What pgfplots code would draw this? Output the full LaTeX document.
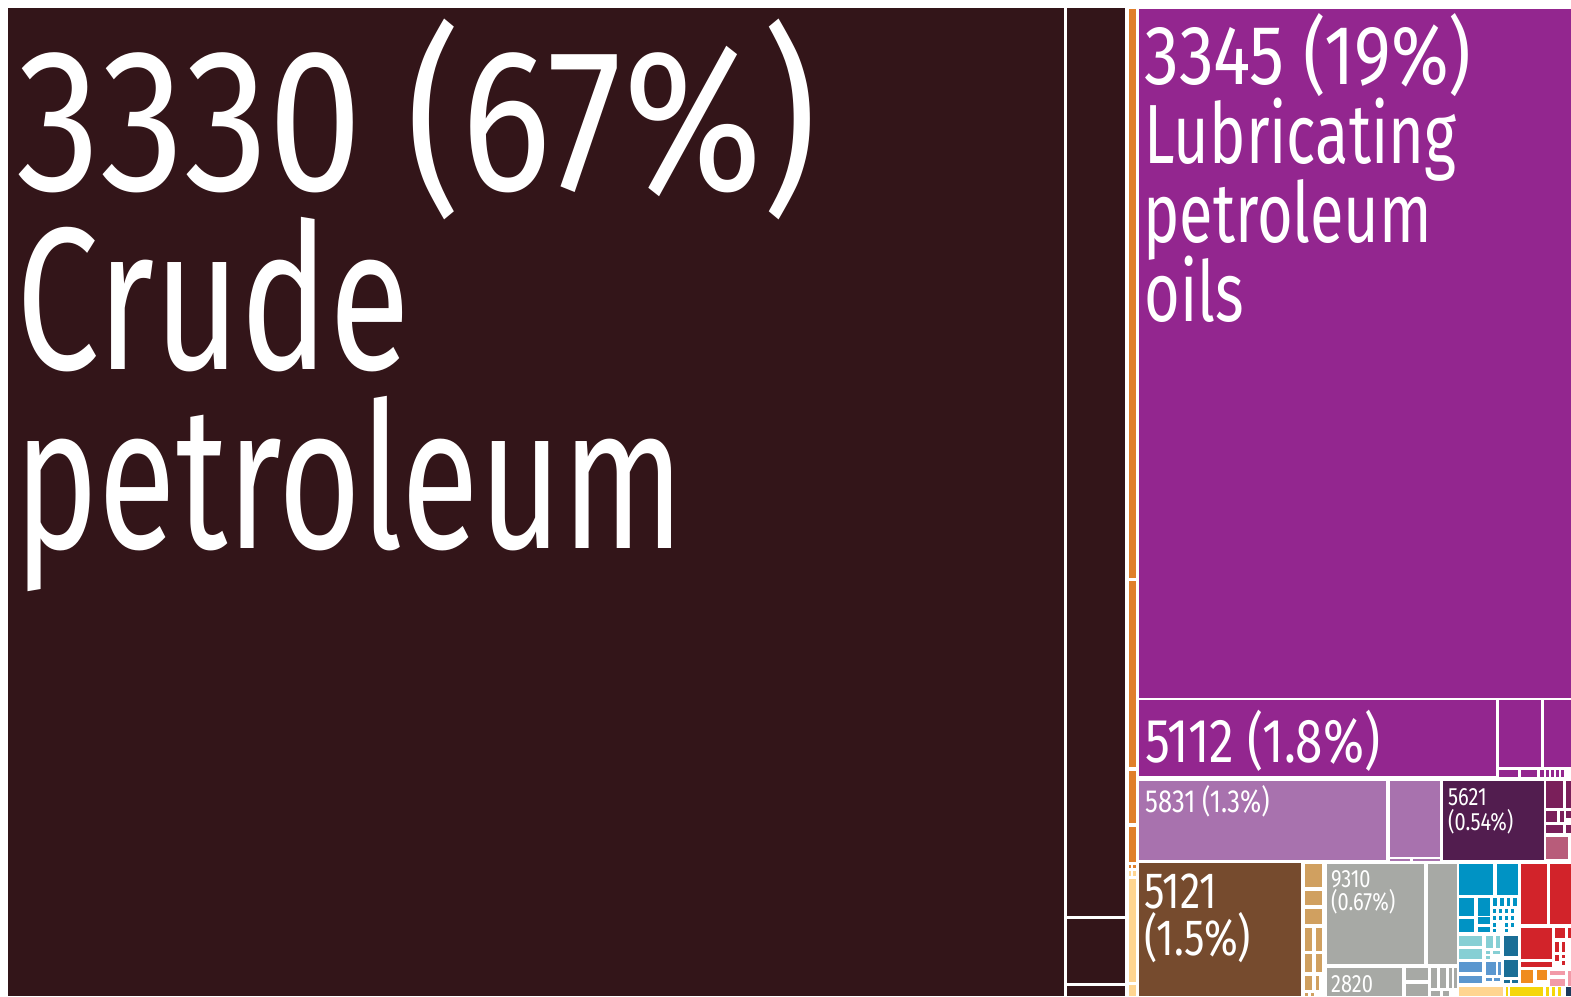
\documentclass[border=0pt]{standalone}
\usepackage{pgfplots}
\pgfplotsset{compat=1.18}
\usepackage{fontspec}
\newfontfamily\tw{Fira Sans}[FakeStretch=0.70]
\newfontfamily\tws{Fira Sans}[FakeStretch=0.73]
\newfontfamily\tn{Fira Sans}[FakeStretch=0.80]
\newfontfamily\tnb{Fira Sans}[FakeStretch=0.83]
\definecolor{crude}{HTML}{331519}
\definecolor{lub}{HTML}{93268F}
\definecolor{lpur}{HTML}{A872AE}
\definecolor{dpur}{HTML}{521D4F}
\definecolor{mag}{HTML}{7A1F5A}
\definecolor{pinkm}{HTML}{B85C7A}
\definecolor{brn}{HTML}{764B2E}
\definecolor{tan}{HTML}{D0A060}
\definecolor{gry}{HTML}{A7A9A5}
\definecolor{blu}{HTML}{0093C4}
\definecolor{dblu}{HTML}{1A6E96}
\definecolor{mblu}{HTML}{5B97CF}
\definecolor{teal}{HTML}{86CFD4}
\definecolor{red}{HTML}{D2232A}
\definecolor{org}{HTML}{E07F2A}
\definecolor{org2}{HTML}{F08C1E}
\definecolor{pch}{HTML}{FFD590}
\definecolor{yel}{HTML}{F5D60A}
\definecolor{pnk}{HTML}{F29AA8}
\definecolor{navy}{HTML}{1B3A5C}
\newcommand{\tile}[5]{\addplot[fill=#5,draw=none] coordinates {(#1,#2) (#3,#2) (#3,#4) (#1,#4)} -- cycle;}
\newcommand{\lbl}[5]{\node[anchor=base west, text=white, inner sep=0pt,
  font=#3\fontsize{#4}{#4}\selectfont] at (axis cs:#1,#2) {#5};}
\begin{document}
\begin{tikzpicture}
\begin{axis}[scale only axis, width=1571pt, height=996pt,
  xmin=0, xmax=1571, ymin=0, ymax=996, y dir=reverse, hide axis]
\tile{0}{0}{1571}{996}{white}
% crude petroleum and dark strip
\tile{8}{8}{1064}{996}{crude}
\tile{1067}{8}{1125}{916}{crude}
\tile{1067}{919}{1125}{983}{crude}
\tile{1067}{986}{1125}{996}{crude}
% orange strip
\tile{1129}{9}{1136}{578}{org}
\tile{1129}{581}{1136}{767}{org}
\tile{1129}{771}{1136}{823}{org}
\tile{1129}{827}{1136}{862}{org}
\tile{1129}{865}{1131}{868}{org}
\tile{1133}{865}{1136}{868}{org}
\tile{1129}{871}{1131}{876}{pch}
\tile{1133}{871}{1136}{876}{pch}
\tile{1129}{879}{1136}{982}{pch}
\tile{1129}{985}{1136}{996}{pch}
% purple group
\tile{1139}{9}{1571}{698}{lub}
\tile{1139}{700}{1496}{776}{lub}
\tile{1499}{700}{1541}{767}{lub}
\tile{1544}{700}{1571}{767}{lub}
\tile{1499}{770}{1518}{777}{lub}
\tile{1521}{770}{1537}{777}{lub}
\tile{1540}{770}{1544}{777}{lub}
\tile{1546}{770}{1549}{777}{lub}
\tile{1551}{770}{1554}{777}{lub}
\tile{1556}{770}{1559}{777}{lub}
\tile{1561}{770}{1564}{777}{lub}
\tile{1139}{781}{1386}{860}{lpur}
\tile{1390}{781}{1440}{857}{lpur}
\tile{1390}{859}{1410}{861}{lpur}
\tile{1413}{859}{1440}{861}{lpur}
\tile{1443}{781}{1544}{860}{dpur}
\tile{1546}{781}{1563}{808}{mag}
\tile{1566}{781}{1571}{808}{mag}
\tile{1546}{811}{1557}{822}{mag}
\tile{1560}{811}{1564}{822}{mag}
\tile{1566}{811}{1571}{818}{mag}
\tile{1546}{825}{1563}{833}{mag}
\tile{1566}{825}{1571}{833}{mag}
\tile{1546}{837}{1568}{859}{pinkm}
% bottom row
\tile{1139}{863}{1301}{996}{brn}
\tile{1305}{864}{1322}{887}{tan}
\tile{1305}{891}{1322}{905}{tan}
\tile{1305}{909}{1322}{924}{tan}
\tile{1305}{928}{1312}{951}{tan}
\tile{1316}{928}{1322}{951}{tan}
\tile{1305}{954}{1312}{972}{tan}
\tile{1316}{954}{1322}{972}{tan}
\tile{1305}{976}{1312}{990}{tan}
\tile{1316}{976}{1319}{990}{tan}
\tile{1305}{993}{1308}{996}{tan}
\tile{1311}{993}{1314}{996}{tan}
\tile{1327}{864}{1424}{964}{gry}
\tile{1428}{864}{1457}{964}{gry}
\tile{1327}{968}{1402}{996}{gry}
\tile{1406}{968}{1428}{980}{gry}
\tile{1406}{984}{1428}{996}{gry}
\tile{1431}{968}{1437}{988}{gry}
\tile{1440}{968}{1446}{988}{gry}
\tile{1449}{968}{1452}{988}{gry}
\tile{1454}{968}{1457}{988}{gry}
\tile{1431}{991}{1440}{996}{gry}
\tile{1443}{991}{1449}{996}{gry}
% blue cluster
\tile{1459}{864}{1493}{895}{blu}
\tile{1497}{864}{1518}{895}{blu}
\tile{1459}{898}{1474}{916}{blu}
\tile{1478}{898}{1490}{916}{blu}
\tile{1459}{919}{1474}{932}{blu}
\tile{1478}{917}{1490}{924}{blu}
\tile{1478}{927}{1490}{932}{blu}
\tile{1493}{898}{1497}{906}{blu}
\tile{1500}{898}{1504}{906}{blu}
\tile{1507}{898}{1510}{906}{blu}
\tile{1513}{898}{1517}{906}{blu}
\tile{1493}{909}{1496}{913}{blu}
\tile{1499}{909}{1502}{913}{blu}
\tile{1505}{909}{1508}{913}{blu}
\tile{1511}{909}{1514}{913}{blu}
\tile{1493}{916}{1496}{920}{blu}
\tile{1499}{916}{1502}{920}{blu}
\tile{1505}{916}{1508}{920}{blu}
\tile{1511}{916}{1514}{920}{blu}
\tile{1493}{923}{1496}{927}{blu}
\tile{1505}{923}{1508}{927}{blu}
\tile{1511}{923}{1514}{927}{blu}
\tile{1493}{929}{1496}{932}{blu}
\tile{1505}{929}{1508}{932}{blu}
\tile{1459}{936}{1482}{946}{teal}
\tile{1459}{949}{1482}{959}{teal}
\tile{1486}{936}{1493}{948}{teal}
\tile{1496}{936}{1500}{948}{teal}
\tile{1486}{951}{1490}{954}{teal}
\tile{1493}{951}{1500}{954}{teal}
\tile{1486}{956}{1490}{959}{teal}
\tile{1504}{936}{1518}{956}{dblu}
\tile{1504}{960}{1518}{977}{dblu}
\tile{1459}{962}{1482}{972}{mblu}
\tile{1459}{976}{1482}{983}{mblu}
\tile{1486}{962}{1496}{975}{mblu}
\tile{1498}{962}{1501}{975}{mblu}
\tile{1486}{978}{1492}{981}{mblu}
\tile{1494}{978}{1500}{981}{mblu}
\tile{1504}{980}{1510}{983}{dblu}
\tile{1512}{980}{1518}{983}{dblu}
% red cluster
\tile{1521}{864}{1547}{924}{red}
\tile{1550}{864}{1571}{924}{red}
\tile{1521}{928}{1552}{959}{red}
\tile{1521}{962}{1552}{967}{red}
\tile{1555}{928}{1565}{938}{red}
\tile{1568}{928}{1571}{938}{red}
\tile{1555}{942}{1559}{952}{red}
\tile{1562}{942}{1565}{952}{red}
\tile{1555}{955}{1559}{961}{red}
\tile{1562}{955}{1565}{958}{red}
\tile{1562}{961}{1565}{965}{red}
\tile{1521}{970}{1533}{983}{org2}
\tile{1537}{970}{1547}{980}{org2}
\tile{1550}{971}{1565}{975}{pnk}
\tile{1550}{979}{1565}{986}{pnk}
\tile{1568}{971}{1571}{986}{pnk}
\tile{1459}{987}{1503}{996}{pch}
\tile{1506}{987}{1508}{996}{yel}
\tile{1510}{987}{1543}{996}{yel}
\tile{1546}{987}{1549}{996}{yel}
\tile{1552}{987}{1555}{996}{yel}
\tile{1558}{987}{1561}{996}{yel}
\tile{1566}{987}{1571}{996}{navy}
% labels
\lbl{16}{190}{\tnb}{203}{3330 (67\%)}
\lbl{16}{369}{\tws}{203}{Crude}
\lbl{14}{548}{\tw}{203}{petroleum}
\lbl{1144}{84}{\tnb}{84}{3345 (19\%)}
\lbl{1144}{163}{\tws}{84}{Lubricating}
\lbl{1143}{242}{\tws}{84}{petroleum}
\lbl{1144}{321}{\tws}{84}{oils}
\lbl{1145}{762}{\tn}{62}{5112 (1.8\%)}
\lbl{1145}{812}{\tn}{32}{5831 (1.3\%)}
\lbl{1448}{805}{\tn}{25}{5621}
\lbl{1448}{830}{\tn}{25}{(0.54\%)}
\lbl{1144}{908}{\tn}{51}{5121}
\lbl{1144}{955}{\tn}{51}{(1.5\%)}
\lbl{1331}{887}{\tn}{25}{9310}
\lbl{1331}{910}{\tn}{25}{(0.67\%)}
\lbl{1331}{992}{\tn}{25}{2820}
\end{axis}
\end{tikzpicture}
\end{document}
